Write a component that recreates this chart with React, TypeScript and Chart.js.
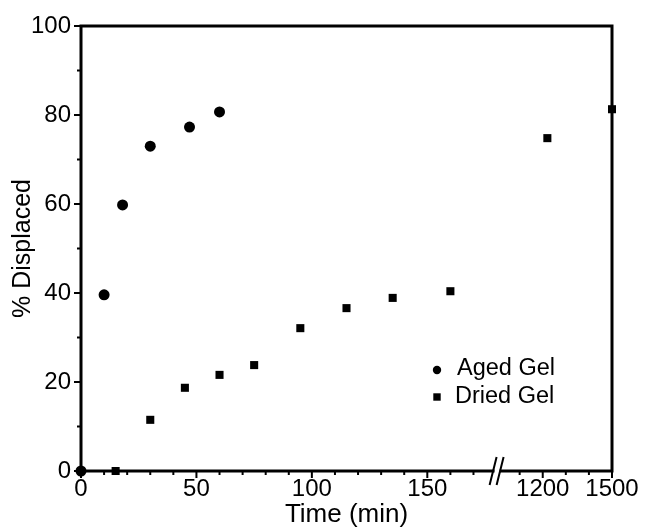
import React, { useEffect, useRef } from "react";
import { Chart, registerables } from "chart.js";

Chart.register(...registerables);

// ---- data (time in minutes, % displaced) ----
const agedTime = [0, 10, 18, 30, 47, 60];
const agedPct = [0, 39.6, 59.8, 73.0, 77.3, 80.7];
const driedTime = [15, 30, 45, 60, 75, 95, 115, 135, 160, 1220, 1500];
const driedPct = [0, 11.5, 18.7, 21.6, 23.8, 32.1, 36.6, 38.9, 40.4, 74.8, 81.3];

const xLabelTicks = [0, 50, 100, 150, 1200, 1500];
const xMinorTicks = [10, 20, 30, 40, 60, 70, 80, 90, 110, 120, 130, 140, 160, 170, 1100, 1300, 1400];
const yMajorTicks = [0, 20, 40, 60, 80, 100];
const yMinorTicks = [10, 30, 50, 70, 90];

const seriesNames = ["Aged Gel", "Dried Gel"];
const xTitle = "Time (min)";
const yTitle = "% Displaced";

// broken axis: 0..180 min linear, then 100 min per 10 display units from 1100 on
const BREAK_AT = 180;
const toAxis = (t: number) => (t <= BREAK_AT ? t : 200 + (t - 1200) / 10);
const fromAxis = (u: number) => (u <= BREAK_AT ? u : 1200 + (u - 200) * 10);

const FONT = '"Liberation Sans", Arial, Helvetica, sans-serif';

const decorPlugin = {
  id: "decor",
  beforeDatasetsDraw(chart: any) {
    const { ctx, chartArea: a, scales } = chart;
    const x = scales.x;
    const y = scales.y;
    ctx.save();
    ctx.strokeStyle = "#000";
    ctx.lineCap = "butt";
    const seg = (x1: number, y1: number, x2: number, y2: number) => {
      ctx.beginPath();
      ctx.moveTo(x1, y1);
      ctx.lineTo(x2, y2);
      ctx.stroke();
    };
    ctx.lineWidth = 2;
    yMajorTicks.forEach((v) => {
      const p = y.getPixelForValue(v);
      seg(a.left - 7, p, a.left, p);
    });
    yMinorTicks.forEach((v) => {
      const p = y.getPixelForValue(v);
      seg(a.left - 4, p, a.left, p);
    });
    xLabelTicks.forEach((v) => {
      const p = x.getPixelForValue(toAxis(v));
      seg(p, a.bottom, p, a.bottom + 7);
    });
    xMinorTicks.forEach((v) => {
      const p = x.getPixelForValue(toAxis(v));
      seg(p, a.bottom, p, a.bottom + 4);
    });
    ctx.lineWidth = 3;
    ctx.strokeRect(a.left, a.top, a.right - a.left, a.bottom - a.top);
    // axis break
    const bp = x.getPixelForValue(BREAK_AT);
    ctx.fillStyle = "#fff";
    ctx.fillRect(bp - 2, a.bottom - 3, 5, 6);
    ctx.lineWidth = 2;
    seg(bp - 7, a.bottom + 14, bp, a.bottom - 14);
    seg(bp, a.bottom + 14, bp + 7, a.bottom - 14);
    ctx.restore();
  },
  afterDraw(chart: any) {
    const { ctx, chartArea: a } = chart;
    ctx.save();
    ctx.fillStyle = "#000";
    ctx.font = `23.5px ${FONT}`;
    ctx.textBaseline = "middle";
    ctx.textAlign = "left";
    const mx = a.left + 356;
    const y1 = a.top + 343;
    const y2 = a.top + 371;
    ctx.beginPath();
    ctx.arc(mx, y1 + 1, 4.2, 0, Math.PI * 2);
    ctx.fill();
    ctx.fillRect(mx - 3.7, y2 - 3.7, 7.4, 7.4);
    const ds = chart.data.datasets;
    ctx.fillText(ds[0].label, mx + 20, y1);
    ctx.fillText(ds[1].label, mx + 18, y2);
    ctx.restore();
  },
};

export default function App() {
  const ref = useRef<HTMLCanvasElement | null>(null);
  useEffect(() => {
    if (!ref.current) return;
    const chart = new Chart(ref.current, {
      type: "scatter",
      data: {
        datasets: [
          {
            label: seriesNames[0],
            data: agedTime.map((t, i) => ({ x: toAxis(t), y: agedPct[i] })),
            pointStyle: "circle",
            pointRadius: 5.5,
            backgroundColor: "#000",
            borderColor: "#000",
            borderWidth: 0,
            clip: false,
          },
          {
            label: seriesNames[1],
            data: driedTime.map((t, i) => ({ x: toAxis(t), y: driedPct[i] })),
            pointStyle: "rect",
            pointRadius: 5.7,
            backgroundColor: "#000",
            borderColor: "#000",
            borderWidth: 0,
            clip: false,
          },
        ],
      },
      options: {
        responsive: false,
        animation: false,
        events: [],
        layout: { padding: { left: 0, right: 35, top: 26, bottom: 0 } },
        plugins: { legend: { display: false }, tooltip: { enabled: false } },
        scales: {
          x: {
            type: "linear",
            min: 0,
            max: 230,
            grid: { display: false, drawTicks: false },
            border: { display: false },
            afterFit: (s: any) => {
              s.height = 58;
            },
            afterBuildTicks: (s: any) => {
              s.ticks = xLabelTicks.map((v) => ({ value: toAxis(v) }));
            },
            ticks: {
              autoSkip: false,
              maxRotation: 0,
              padding: 4,
              color: "#000",
              font: { family: FONT, size: 24 },
              callback: (v: any) => String(Math.round(fromAxis(Number(v)))),
            },
            title: {
              display: true,
              text: xTitle,
              color: "#000",
              font: { family: FONT, size: 26, lineHeight: 1 },
              padding: { top: 0, bottom: 1 },
            },
          },
          y: {
            type: "linear",
            min: 0,
            max: 100,
            grid: { display: false, drawTicks: false },
            border: { display: false },
            afterFit: (s: any) => {
              s.width = 81;
            },
            afterBuildTicks: (s: any) => {
              s.ticks = yMajorTicks.map((v) => ({ value: v }));
            },
            ticks: {
              padding: 10,
              color: "#000",
              font: { family: FONT, size: 24 },
            },
            title: {
              display: true,
              text: yTitle,
              color: "#000",
              font: { family: FONT, size: 25, lineHeight: 1 },
              padding: { top: 11, bottom: 0 },
            },
          },
        },
      },
      plugins: [decorPlugin],
    });
    return () => chart.destroy();
  }, []);
  return (
    <div style={{ position: "fixed", left: 0, top: 0, width: 647, height: 529, background: "#fff" }}>
      <canvas ref={ref} width={647} height={529} style={{ display: "block" }} />
    </div>
  );
}
